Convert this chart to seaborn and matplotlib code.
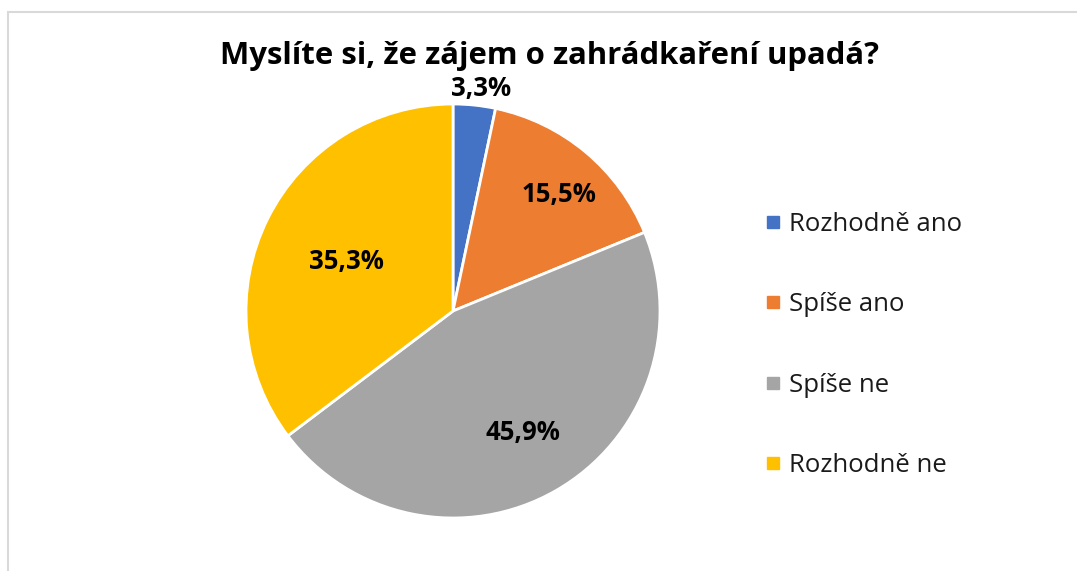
import matplotlib
matplotlib.use("Agg")
import matplotlib.pyplot as plt
import numpy as np
import seaborn as sns
from matplotlib.lines import Line2D
from matplotlib.patches import Rectangle

categories = ["Rozhodně ano", "Spíše ano", "Spíše ne", "Rozhodně ne"]
shares = [3.3, 15.5, 45.9, 35.3]
pct_labels = ["3,3%", "15,5%", "45,9%", "35,3%"]
title = "Myslíte si, že zájem o zahrádkaření upadá?"

colors = ["#4472C4", "#ED7D31", "#A5A5A5", "#FFC000"]
label_radius = [1.11, 0.77, 0.64, 0.6]

sns.set_theme(style="white")
plt.rcParams["font.family"] = ["Open Sans", "DejaVu Sans"]

W, H = 1077, 571
fig = plt.figure(figsize=(W / 100, H / 100), dpi=100)

# chart frame (only top and left edges fall inside the picture)
fig.patches.append(Rectangle((8 / W, -0.1), 1.2, (H - 12) / H + 0.1,
                             transform=fig.transFigure, fill=False,
                             edgecolor="#D9D9D9", linewidth=1.5))

cx, cy, r = 453, 311, 207
ax = fig.add_axes([(cx - r) / W, (H - cy - r) / H, 2 * r / W, 2 * r / H])
wedges, _ = ax.pie(shares, colors=colors, startangle=90, counterclock=False,
                   wedgeprops=dict(edgecolor="white", linewidth=2))
ax.set_xlim(-1, 1)
ax.set_ylim(-1, 1)
ax.set_aspect("equal")
ax.axis("off")

for w, lab, rr in zip(wedges, pct_labels, label_radius):
    ang = np.deg2rad((w.theta1 + w.theta2) / 2)
    ax.text(rr * np.cos(ang) + 0.02, rr * np.sin(ang) - 0.03, lab,
            ha="center", va="center", fontsize=18.5, fontweight="bold",
            color="black", clip_on=False)

fig.text(549 / W, 1 - 56 / H, title, ha="center", va="center",
         fontsize=22.4, fontweight="bold", color="black")

handles = [Line2D([], [], marker="s", linestyle="none", markersize=8,
                  markerfacecolor=c, markeredgecolor=c) for c in colors]
fig.legend(handles, categories, loc="center left",
           bbox_to_anchor=(750 / W, 1 - 345 / H), frameon=False,
           fontsize=18.5, labelspacing=2.15, handletextpad=0.2,
           handlelength=0.8, borderpad=0, labelcolor="#1a1a1a")

fig.savefig("out.png", dpi=100, facecolor="white")
